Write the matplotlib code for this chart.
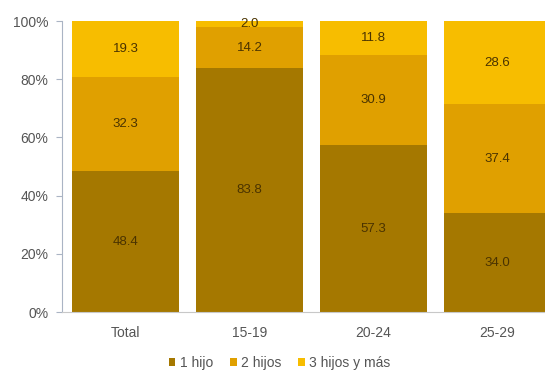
import matplotlib.pyplot as plt
import numpy as np

plt.rcParams['font.family'] = ['Liberation Sans', 'DejaVu Sans']

# Datos
categorias = ["Total", "15-19", "20-24", "25-29"]
un_hijo = [48.4, 83.8, 57.3, 34.0]
dos_hijos = [32.3, 14.2, 30.9, 37.4]
tres_hijos = [19.3, 2.0, 11.8, 28.6]

series = [("1 hijo", un_hijo, "#A57800"),
          ("2 hijos", dos_hijos, "#E0A000"),
          ("3 hijos y más", tres_hijos, "#F7BD00")]

fig = plt.figure(figsize=(5.45, 3.71), dpi=100)
ax = fig.add_axes([0.1138, 0.159, 0.886, 0.784])

x = np.arange(len(categorias))
bottom = np.zeros(len(categorias))
for nombre, valores, color in series:
    vals = np.array(valores)
    ax.bar(x, vals, width=0.863, bottom=bottom, color=color, label=nombre, zorder=2)
    for xi, b, v in zip(x, bottom, vals):
        ax.text(xi, b + v / 2, f"{v:.1f}", ha="center", va="center",
                fontsize=9.5, color="#4a3300")
    bottom += vals

ax.set_ylim(0, 100)
ax.set_xlim(-0.512, 3.383)
ax.set_yticks([0, 20, 40, 60, 80, 100])
ax.set_yticklabels([f"{t}%" for t in [0, 20, 40, 60, 80, 100]])
ax.set_xticks(x)
ax.set_xticklabels(categorias)
ax.tick_params(axis="y", labelsize=10, colors="#555555", length=4, color="#aab4c4", pad=6)
ax.tick_params(axis="x", labelsize=10, colors="#555555", length=0, pad=10)

for s in ["top", "right"]:
    ax.spines[s].set_visible(False)
ax.spines["left"].set_color("#aab4c4")
ax.spines["bottom"].set_color("#c8c8c8")

ax.legend(loc="lower center", bbox_to_anchor=(0.45, -0.243), ncol=3, frameon=False,
          fontsize=10, handlelength=0.5, handleheight=0.5, handletextpad=0.3,
          columnspacing=1.2, labelcolor="#555555")

plt.savefig("out.png", dpi=100)
